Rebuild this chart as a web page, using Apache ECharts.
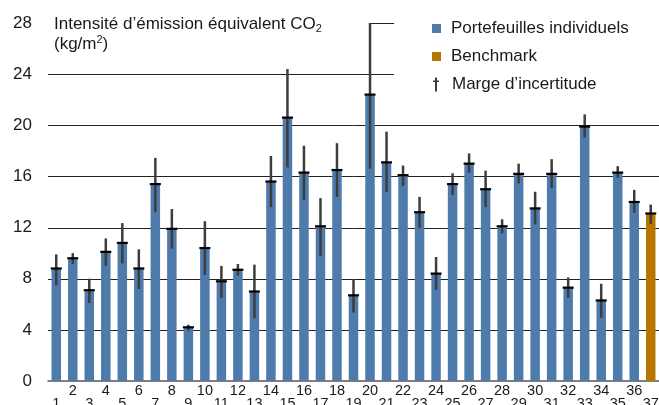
<!DOCTYPE html>
<html><head><meta charset="utf-8">
<script src="https://cdn.jsdelivr.net/npm/echarts@6/dist/echarts.min.js"></script>
<style>html,body{margin:0;padding:0;background:#fff}#c{width:659px;height:405px}</style>
</head><body><div id="c"></div>
<script>
const categories = ['1','2','3','4','5','6','7','8','9','10','11','12','13','14','15','16','17','18','19','20','21','22','23','24','25','26','27','28','29','30','31','32','33','34','35','36','37'];
const values = [8.8,9.6,7.1,10.1,10.8,8.8,15.4,11.9,4.2,10.4,7.8,8.7,7.0,15.6,20.6,16.3,12.1,16.5,6.7,22.4,17.1,16.1,13.2,8.4,15.4,17.0,15.0,12.1,16.2,13.5,16.2,7.3,19.9,6.3,16.3,14.0,13.1];
const lows   = [7.5,9.15,6.1,9.0,9.2,7.2,13.2,10.35,3.95,8.3,6.5,8.25,4.9,13.6,16.7,14.15,9.8,14.4,5.35,16.6,14.8,15.25,11.95,7.15,14.55,16.3,13.6,11.55,15.45,12.25,15.1,6.5,19.05,4.95,15.9,13.15,12.3];
const highs  = [9.9,10.0,8.0,11.15,12.35,10.3,17.45,13.45,4.4,12.5,9.0,9.15,9.1,17.6,24.4,18.4,14.3,18.6,7.95,28.0,19.5,16.85,14.4,9.7,16.25,17.8,16.45,12.65,17.0,14.8,17.35,8.1,20.85,7.6,16.8,14.95,13.8];
const yTicks = [0,4,8,12,16,20,24,28];
const benchmarkIndex = 36;

const portfolio = values.map((v,i)=> i===benchmarkIndex ? '-' : v);
const bench = values.map((v,i)=> i===benchmarkIndex ? v : '-');
const errData = values.map((v,i)=>[i, lows[i], highs[i], v]);

const FONT = 'Liberation Sans, Arial, Helvetica, sans-serif';
const chart = echarts.init(document.getElementById('c'), null, {renderer:'canvas'});
chart.setOption({
  animation:false,
  backgroundColor:'#fff',
  textStyle:{fontFamily:FONT},
  title:{
    text:'{t|Intensité d’émission équivalent CO}{sub|2}\n{t|(kg/m}{sup|2}{t|)}',
    left:49, top:9,
    textStyle:{
      fontWeight:'normal',
      rich:{
        t:{fontSize:17,color:'#1a1a1a',fontFamily:FONT,fontWeight:'normal',lineHeight:20},
        sub:{fontSize:11,color:'#1a1a1a',fontFamily:FONT,fontWeight:'normal',lineHeight:8,verticalAlign:'bottom'},
        sup:{fontSize:11,color:'#1a1a1a',fontFamily:FONT,fontWeight:'normal',lineHeight:14,verticalAlign:'top'}
      }
    }
  },
  legend:[{
    orient:'vertical', left:427, top:15, itemGap:11, itemWidth:9, itemHeight:9,
    textStyle:{fontSize:17,color:'#1a1a1a',fontFamily:FONT, padding:[0,0,0,5]},
    data:[{name:'Portefeuilles individuels',icon:'rect'},{name:'Benchmark',icon:'rect'}]
  },{
    orient:'vertical', left:428, top:71, itemWidth:6, itemHeight:14,
    textStyle:{fontSize:17,color:'#1a1a1a',fontFamily:FONT, padding:[0,0,0,8]},
    data:[{name:'Marge d’incertitude',icon:'path://M2,0L4,0L4,3L6,3L6,4.5L4,4.5L4,14L2,14L2,4.5L0,4.5L0,3L2,3Z'}]
  }],
  grid:{left:48,right:0,top:23,bottom:24,containLabel:false,outerBoundsMode:'none'},
  xAxis:{
    type:'category', data:categories,
    axisLine:{lineStyle:{color:'#555',width:1.5}},
    axisTick:{show:false},
    axisLabel:{
      interval:0, margin:3, fontSize:14.5, color:'#1a1a1a', fontFamily:FONT, lineHeight:13,
      formatter:(v,i)=> i%2===0 ? '\n'+v : v
    }
  },
  yAxis:{
    type:'value', min:0, max:28, interval:4,
    axisLine:{show:false}, axisTick:{show:false},
    splitLine:{show:false},
    axisLabel:{margin:16, fontSize:17, color:'#1a1a1a', fontFamily:FONT,
      formatter:v=> yTicks.indexOf(v)>=0 ? String(v) : ''}
  },
  series:[
    {name:'Portefeuilles individuels', type:'bar', data:portfolio, barWidth:9.5, barGap:'-100%',
     itemStyle:{color:'#4f7bac'}, z:3},
    {name:'Benchmark', type:'bar', data:bench, barWidth:9.5, barGap:'-100%',
     itemStyle:{color:'#b57700'}, z:3},
    {name:'Marge d’incertitude', type:'custom', data:errData, z:5,
     itemStyle:{color:'#3d3d3d'},
     encode:{x:0,y:[1,2]},
     renderItem:function(params, api){
       const x = api.value(0);
       const pLo = api.coord([x, api.value(1)]);
       const pHi = api.coord([x, api.value(2)]);
       const pV = api.coord([x, api.value(3)]);
       const half = 5.5;
       return {type:'group', children:[
         {type:'line', shape:{x1:pLo[0],y1:pLo[1],x2:pHi[0],y2:pHi[1]}, style:{stroke:'#3d3d3d',lineWidth:2.5}},
         {type:'line', shape:{x1:pV[0]-half,y1:pV[1],x2:pV[0]+half,y2:pV[1]}, style:{stroke:'#000',lineWidth:2.2}}
       ]};
     }
    }
  ]
});

// Horizontal gridlines drawn through the axis scale (partly hidden behind title/legend as in the reference)
function drawGrid(){
  const gridRect = chart.getModel().getComponent('grid').coordinateSystem.getRect();
  const x0 = gridRect.x, x1 = gridRect.x + gridRect.width;
  const legendEdge = 394;
  const els = [];
  yTicks.forEach(v=>{
    if(v===0) return;
    const y = Math.round(chart.convertToPixel({yAxisIndex:0}, v)) + 0.5;
    let a = x0, b = x1;
    if(v===24){ b = legendEdge; }
    if(v===28){ a = chart.convertToPixel({xAxisIndex:0}, 19); b = legendEdge; }
    els.push({type:'line', shape:{x1:a,y1:y,x2:b,y2:y}, style:{stroke:'#222',lineWidth:1}, z:1, silent:true});
  });
  chart.setOption({graphic:{elements:els}});
}
drawGrid();
</script></body></html>
